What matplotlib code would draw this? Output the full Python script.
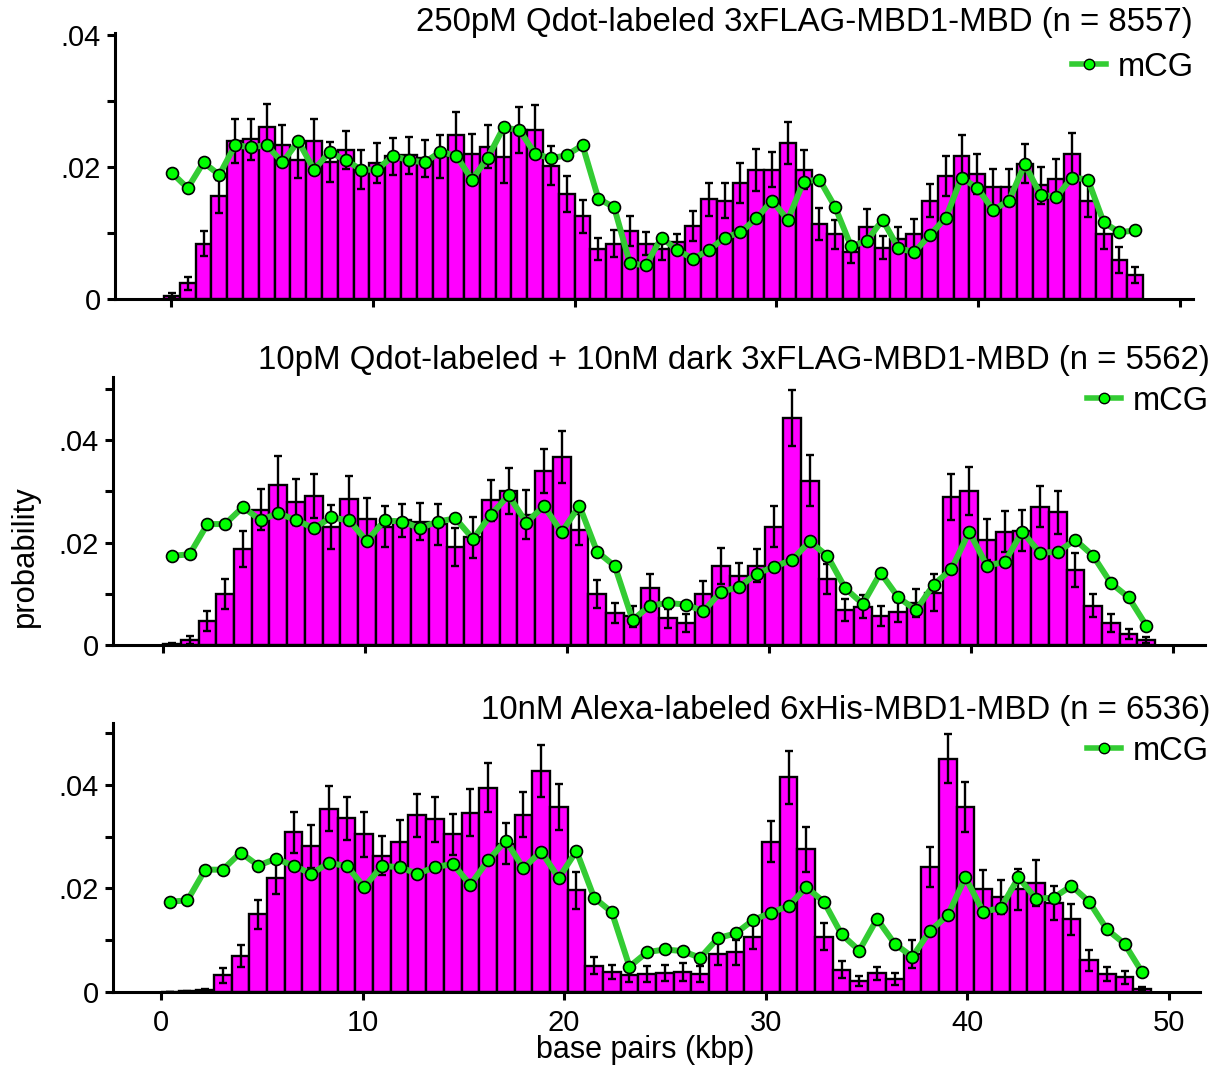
import numpy as np
import matplotlib
matplotlib.use("Agg")
import matplotlib.pyplot as plt
from matplotlib.lines import Line2D

plt.rcParams['font.family'] = ['Liberation Sans', 'DejaVu Sans']

# ---------------- data ----------------
titles = [
    "250pM Qdot-labeled 3xFLAG-MBD1-MBD (n = 8557)",
    "10pM Qdot-labeled + 10nM dark 3xFLAG-MBD1-MBD (n = 5562)",
    "10nM Alexa-labeled 6xHis-MBD1-MBD (n = 6536)",
]
legend_label = "mCG"
xlabel = "base pairs (kbp)"
ylabel = "probability"
xticks = [0, 10, 20, 30, 40, 50]

# panel A binning (kbp)
bin_start_a = -0.35
bin_width_a = 0.7826
# panels B, C binning (kbp)
bin_start_bc = 0.0
bin_width_bc = 0.877

a_prob = [0.0005, 0.0024, 0.0084, 0.0156, 0.0239, 0.0242, 0.0261, 0.0233, 0.0211, 0.0239,
          0.0208, 0.0226, 0.0196, 0.0206, 0.0216, 0.0218, 0.0213, 0.0216, 0.0249, 0.0220,
          0.0231, 0.0215, 0.0256, 0.0256, 0.0202, 0.0159, 0.0125, 0.0076, 0.0084, 0.0103,
          0.0084, 0.0076, 0.0087, 0.0111, 0.0151, 0.0149, 0.0176, 0.0196, 0.0196, 0.0236,
          0.0196, 0.0114, 0.0098, 0.0071, 0.0109, 0.0078, 0.0091, 0.0098, 0.0149, 0.0186,
          0.0216, 0.0189, 0.0169, 0.0169, 0.0205, 0.0172, 0.0182, 0.0219, 0.0149, 0.0098,
          0.0059, 0.0036]
a_err = [0.0004, 0.0010, 0.0019, 0.0025, 0.0033, 0.0031, 0.0034, 0.0030, 0.0027, 0.0034,
         0.0030, 0.0029, 0.0029, 0.0030, 0.0028, 0.0028, 0.0028, 0.0032, 0.0035, 0.0030,
         0.0033, 0.0039, 0.0035, 0.0038, 0.0030, 0.0027, 0.0025, 0.0017, 0.0020, 0.0022,
         0.0017, 0.0017, 0.0012, 0.0023, 0.0025, 0.0026, 0.0030, 0.0032, 0.0026, 0.0032,
         0.0030, 0.0024, 0.0022, 0.0016, 0.0028, 0.0017, 0.0018, 0.0023, 0.0025, 0.0030,
         0.0033, 0.0030, 0.0028, 0.0028, 0.0030, 0.0028, 0.0030, 0.0032, 0.0025, 0.0022,
         0.0020, 0.0012]
a_mcg = [0.0191, 0.0168, 0.0207, 0.0188, 0.0233, 0.0230, 0.0233, 0.0207, 0.0239, 0.0196,
         0.0223, 0.0210, 0.0196, 0.0196, 0.0217, 0.0210, 0.0207, 0.0223, 0.0217, 0.0181,
         0.0214, 0.0260, 0.0256, 0.0220, 0.0213, 0.0218, 0.0233, 0.0152, 0.0139, 0.0054,
         0.0051, 0.0093, 0.0074, 0.0061, 0.0074, 0.0093, 0.0101, 0.0122, 0.0149, 0.0120,
         0.0178, 0.0181, 0.0139, 0.0080, 0.0088, 0.0120, 0.0077, 0.0071, 0.0097, 0.0123,
         0.0184, 0.0168, 0.0135, 0.0149, 0.0204, 0.0158, 0.0155, 0.0184, 0.0181, 0.0116,
         0.0101, 0.0104]

b_prob = [0.0002, 0.0010, 0.0047, 0.0100, 0.0188, 0.0264, 0.0313, 0.0279, 0.0290, 0.0230,
          0.0284, 0.0246, 0.0231, 0.0243, 0.0241, 0.0236, 0.0192, 0.0210, 0.0282, 0.0301,
          0.0254, 0.0339, 0.0367, 0.0225, 0.0100, 0.0062, 0.0056, 0.0111, 0.0052, 0.0043,
          0.0100, 0.0155, 0.0134, 0.0155, 0.0231, 0.0443, 0.0321, 0.0129, 0.0068, 0.0075,
          0.0057, 0.0064, 0.0082, 0.0102, 0.0289, 0.0300, 0.0205, 0.0221, 0.0223, 0.0270,
          0.0259, 0.0146, 0.0077, 0.0043, 0.0021, 0.0010]
b_err = [0.0002, 0.0008, 0.0020, 0.0029, 0.0035, 0.0040, 0.0055, 0.0045, 0.0043, 0.0043,
         0.0045, 0.0040, 0.0040, 0.0033, 0.0037, 0.0040, 0.0037, 0.0040, 0.0040, 0.0045,
         0.0048, 0.0043, 0.0050, 0.0030, 0.0027, 0.0020, 0.0020, 0.0028, 0.0018, 0.0017,
         0.0025, 0.0035, 0.0026, 0.0033, 0.0040, 0.0055, 0.0050, 0.0030, 0.0021, 0.0022,
         0.0020, 0.0020, 0.0028, 0.0036, 0.0045, 0.0047, 0.0040, 0.0040, 0.0040, 0.0040,
         0.0042, 0.0033, 0.0023, 0.0017, 0.0010, 0.0006]

c_prob = [0.0000, 0.0001, 0.0003, 0.0032, 0.0069, 0.0150, 0.0220, 0.0308, 0.0281, 0.0354,
          0.0335, 0.0304, 0.0263, 0.0290, 0.0341, 0.0333, 0.0304, 0.0346, 0.0394, 0.0286,
          0.0342, 0.0426, 0.0357, 0.0196, 0.0051, 0.0039, 0.0032, 0.0035, 0.0037, 0.0039,
          0.0035, 0.0074, 0.0077, 0.0107, 0.0290, 0.0414, 0.0275, 0.0107, 0.0043, 0.0021,
          0.0036, 0.0025, 0.0074, 0.0241, 0.0450, 0.0357, 0.0198, 0.0183, 0.0198, 0.0210,
          0.0172, 0.0140, 0.0061, 0.0035, 0.0028, 0.0006]
c_err = [0.0000, 0.0001, 0.0002, 0.0015, 0.0021, 0.0028, 0.0030, 0.0039, 0.0042, 0.0044,
         0.0042, 0.0043, 0.0038, 0.0042, 0.0041, 0.0043, 0.0039, 0.0045, 0.0047, 0.0040,
         0.0043, 0.0050, 0.0045, 0.0035, 0.0017, 0.0014, 0.0013, 0.0015, 0.0015, 0.0017,
         0.0016, 0.0022, 0.0024, 0.0025, 0.0039, 0.0051, 0.0043, 0.0026, 0.0016, 0.0010,
         0.0013, 0.0012, 0.0027, 0.0038, 0.0047, 0.0048, 0.0037, 0.0033, 0.0040, 0.0045,
         0.0033, 0.0030, 0.0020, 0.0014, 0.0013, 0.0004]

# mCG density (same genome reference & binning for panels B and C)
bc_mcg = [0.0174, 0.0177, 0.0236, 0.0236, 0.0269, 0.0244, 0.0257, 0.0244, 0.0228, 0.0249,
          0.0243, 0.0203, 0.0243, 0.0241, 0.0228, 0.0241, 0.0247, 0.0207, 0.0254, 0.0292,
          0.0239, 0.0271, 0.0220, 0.0272, 0.0182, 0.0154, 0.0049, 0.0077, 0.0082, 0.0079,
          0.0066, 0.0104, 0.0113, 0.0139, 0.0153, 0.0166, 0.0202, 0.0174, 0.0111, 0.0080,
          0.0141, 0.0093, 0.0068, 0.0118, 0.0148, 0.0221, 0.0155, 0.0162, 0.0221, 0.0180,
          0.0182, 0.0205, 0.0174, 0.0121, 0.0093, 0.0038]

# ---------------- style ----------------
W, H = 1217, 1067
MAGENTA = "#FF00FF"
LINE_GREEN = "#33CC33"
DOT_GREEN = "#00FF00"

fig = plt.figure(figsize=(W / 100, H / 100), dpi=100)


def fbox(l, t, r, b):
    return [l / W, 1 - b / H, (r - l) / W, (b - t) / H]


panels = [
    dict(box=fbox(115, 33, 1193, 299), xlim=(-2.78, 50.64), ylim=(0, 0.0403), ymax_tick=0.04,
         prob=a_prob, err=a_err, mcg=a_mcg, start=bin_start_a, width=bin_width_a,
         title_xy=(1193, 22), leg_xy=(1194, 67), xlabels=False),
    dict(box=fbox(113, 377, 1205, 645), xlim=(-2.48, 51.58), ylim=(0, 0.0523), ymax_tick=0.05,
         prob=b_prob, err=b_err, mcg=bc_mcg, start=bin_start_bc, width=bin_width_bc,
         title_xy=(1210, 360), leg_xy=(1209, 401), xlabels=False),
    dict(box=fbox(113, 723, 1200, 992), xlim=(-2.38, 51.54), ylim=(0, 0.0519), ymax_tick=0.05,
         prob=c_prob, err=c_err, mcg=bc_mcg, start=bin_start_bc, width=bin_width_bc,
         title_xy=(1210, 710), leg_xy=(1209, 751), xlabels=True),
]

for p, title in zip(panels, titles):
    ax = fig.add_axes(p["box"])
    n = len(p["prob"])
    centers = p["start"] + p["width"] * (np.arange(n) + 0.5)
    ax.bar(centers, p["prob"], width=p["width"], color=MAGENTA, edgecolor="black",
           linewidth=1.7, zorder=2)
    ax.errorbar(centers, p["prob"], yerr=p["err"], fmt="none", ecolor="black",
                elinewidth=1.7, capsize=3.2, capthick=1.7, zorder=3)
    ax.plot(centers, p["mcg"], color=LINE_GREEN, linewidth=4.3, marker="o",
            markersize=8.6, markerfacecolor=DOT_GREEN, markeredgecolor="black",
            markeredgewidth=1.2, zorder=4, clip_on=False)
    ax.set_xlim(*p["xlim"])
    ax.set_ylim(*p["ylim"])
    for s in ("top", "right"):
        ax.spines[s].set_visible(False)
    for s in ("left", "bottom"):
        ax.spines[s].set_linewidth(2.2)
    yt = np.arange(0, p["ymax_tick"] + 1e-9, 0.01)
    ax.set_yticks(yt)
    ylabs = []
    for v in yt:
        k = int(round(v * 100))
        if k == 0:
            ylabs.append("0")
        elif k % 2 == 0:
            ylabs.append(".%02d" % k)
        else:
            ylabs.append("")
    ax.set_yticklabels(ylabs)
    ax.set_xticks(xticks)
    if p["xlabels"]:
        ax.set_xticklabels([str(x) for x in xticks])
    else:
        ax.set_xticklabels([])
    ax.tick_params(axis="both", direction="out", length=6, width=2.2, labelsize=21,
                   colors="black")
    ax.tick_params(axis="y", pad=4)
    ax.tick_params(axis="x", pad=6)
    tx, ty = p["title_xy"]
    fig.text(tx / W, 1 - ty / H, title, ha="right", va="center", fontsize=23.8)
    lx, ly = p["leg_xy"]
    handle = Line2D([], [], color=LINE_GREEN, linewidth=4.0, marker="o", markersize=7.5,
                    markerfacecolor=DOT_GREEN, markeredgecolor="black", markeredgewidth=1.0)
    fig.legend(handles=[handle], labels=[legend_label], loc="center right",
               bbox_to_anchor=(lx / W, 1 - ly / H), bbox_transform=fig.transFigure,
               frameon=False, fontsize=23.5, handlelength=1.05, handletextpad=0.35,
               borderpad=0, borderaxespad=0)

fig.text(25 / W, 1 - 556 / H, ylabel, rotation=90, ha="center", va="center", fontsize=22.3)
fig.text(645 / W, 1 - 1050 / H, xlabel, ha="center", va="center", fontsize=22)

fig.savefig("out.png", dpi=100)
